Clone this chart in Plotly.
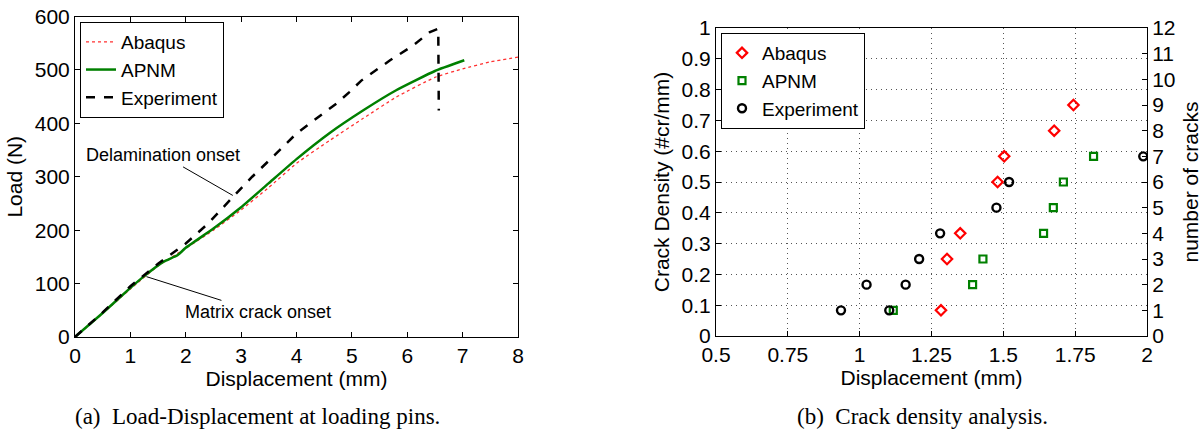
import plotly.graph_objects as go

# (a) load-displacement at loading pins
abaqus_disp = [0, 0.5, 1.0, 1.5, 2.0, 2.5, 3.0, 3.5, 4.0, 4.6, 5.2, 5.8, 6.5, 7.0, 7.5, 8.0]
abaqus_load = [0, 44, 90, 133, 166, 200, 238, 280, 325, 368, 409, 449, 486, 502, 515, 524]

apnm_disp = [0, 0.5, 1.0, 1.25, 1.6, 1.85, 2.0, 2.5, 3.0, 3.5, 4.0, 4.6, 5.2, 5.8, 6.5, 7.03]
apnm_load = [0, 45, 92, 114, 141, 153, 167, 203, 243, 288, 333, 382, 424, 462, 498, 518]

exp_disp = [0, 0.5, 1.0, 1.5, 2.0, 2.4, 2.85, 3.2, 3.6, 4.0, 4.5, 4.72, 4.96, 5.17, 5.69, 6.11, 6.41, 6.56, 6.57]
exp_load = [0, 46, 95, 137, 175, 212, 262, 300, 340, 381, 420, 437, 459, 480, 518, 546, 571, 577, 424]

# (b) crack density analysis
abaqus_cd_disp = [1.283, 1.304, 1.350, 1.480, 1.503, 1.677, 1.744]
abaqus_cracks = [1, 3, 4, 6, 7, 8, 9]
apnm_cd_disp = [1.117, 1.393, 1.429, 1.640, 1.674, 1.709, 1.814]
apnm_cracks = [1, 2, 3, 4, 5, 6, 7]
exp_cd_disp = [0.935, 1.024, 1.103, 1.160, 1.207, 1.280, 1.476, 1.520, 1.987]
exp_cracks = [1, 2, 1, 2, 3, 4, 5, 6, 7]

density_ticks = [0, 0.1, 0.2, 0.3, 0.4, 0.5, 0.6, 0.7, 0.8, 0.9, 1]
disp_ticks = [0.5, 0.75, 1, 1.25, 1.5, 1.75, 2]
disp_ticktext = ['0.5', '0.75', '1', '1.25', '1.5', '1.75', '2']
crack_ticks = list(range(0, 13))

W, H = 1202, 433
FONT = 'Liberation Sans, Arial, sans-serif'


def px(x):
    return x / W


def py(y):
    return 1 - y / H


fig = go.Figure()

# left panel
fig.add_trace(go.Scatter(x=abaqus_disp, y=abaqus_load, name='Abaqus', mode='lines',
                         line=dict(color='#ff3030', width=1.3, dash='dot',
                                   shape='spline', smoothing=0.5),
                         xaxis='x', yaxis='y', legend='legend'))
fig.add_trace(go.Scatter(x=apnm_disp, y=apnm_load, name='APNM', mode='lines',
                         line=dict(color='#008000', width=2.5, shape='spline', smoothing=0.4),
                         xaxis='x', yaxis='y', legend='legend'))
fig.add_trace(go.Scatter(x=exp_disp, y=exp_load, name='Experiment', mode='lines',
                         line=dict(color='black', width=2.5, dash='dash'),
                         xaxis='x', yaxis='y', legend='legend'))

# right panel: empty trace so the density axis gets drawn
fig.add_trace(go.Scatter(x=[], y=[], xaxis='x2', yaxis='y2', showlegend=False,
                         hoverinfo='skip'))
# points plotted as number of cracks
fig.add_trace(go.Scatter(x=abaqus_cd_disp, y=abaqus_cracks, name='Abaqus', mode='markers',
                         marker=dict(symbol='diamond-open', size=8, color='red',
                                     line=dict(width=2.2, color='red')),
                         xaxis='x2', yaxis='y3', legend='legend2'))
fig.add_trace(go.Scatter(x=apnm_cd_disp, y=apnm_cracks, name='APNM', mode='markers',
                         marker=dict(symbol='square-open', size=7, color='#008000',
                                     line=dict(width=2.2, color='#008000')),
                         xaxis='x2', yaxis='y3', legend='legend2'))
fig.add_trace(go.Scatter(x=exp_cd_disp, y=exp_cracks, name='Experiment', mode='markers',
                         marker=dict(symbol='circle-open', size=8, color='black',
                                     line=dict(width=2.4, color='black')),
                         xaxis='x2', yaxis='y3', legend='legend2'))

axis_common = dict(showline=True, linecolor='black', linewidth=1, ticks='inside',
                   ticklen=5, tickcolor='black', zeroline=False, automargin=False,
                   ticklabeloverflow='allow',
                   tickfont=dict(size=21, color='black'),
                   title_font=dict(size=21, color='black'))

grid = dict(showgrid=True, gridcolor='#555555', gridwidth=1, griddash='1px,4px')

fig.update_layout(
    width=W, height=H,
    margin=dict(l=0, r=0, t=0, b=0),
    paper_bgcolor='white', plot_bgcolor='white',
    font=dict(family=FONT, color='black'),
    xaxis=dict(domain=[px(75), px(518)], range=[0, 8], dtick=1, mirror='ticks',
               showgrid=False, title=dict(text='Displacement (mm)', standoff=0),
               anchor='y', **axis_common),
    yaxis=dict(domain=[py(337), py(16.5)], range=[0, 600], dtick=100, mirror='ticks',
               showgrid=False, title=dict(text='Load (N)', standoff=6),
               anchor='x', **axis_common),
    xaxis2=dict(domain=[px(716), px(1147)], range=[0.5, 2], tickvals=disp_ticks,
                ticktext=disp_ticktext, mirror=True,
                title=dict(text='Displacement (mm)', standoff=0),
                anchor='y2', **grid, **axis_common),
    yaxis2=dict(domain=[py(336), py(28)], range=[0, 1], tickvals=density_ticks,
                title=dict(text='Crack Density (#cr/mm)', standoff=6),
                anchor='x2', **grid, **axis_common),
    yaxis3=dict(range=[0, 12], tickvals=crack_ticks, overlaying='y2', side='right',
                anchor='x2', showgrid=False,
                title=dict(text='number of cracks', standoff=8), **axis_common),
    legend=dict(x=px(80), y=py(22), xanchor='left', yanchor='top',
                bgcolor='white', bordercolor='black', borderwidth=1,
                font=dict(size=19, color='black'), tracegroupgap=0,
                itemwidth=30),
    legend2=dict(x=px(721), y=py(33), xanchor='left', yanchor='top',
                 bgcolor='white', bordercolor='black', borderwidth=1,
                 font=dict(size=19, color='black'), tracegroupgap=0,
                 itemwidth=30),
    showlegend=True,
)

ann_font = dict(family=FONT, size=18, color='black')
fig.add_annotation(x=2.85, y=265, ax=1.59, ay=340, xref='x', yref='y', axref='x', ayref='y',
                   text='Delamination onset', showarrow=True, arrowhead=0, arrowwidth=1,
                   arrowcolor='black', font=ann_font)
fig.add_annotation(x=1.29, y=113, ax=3.30, ay=47, xref='x', yref='y', axref='x', ayref='y',
                   text='Matrix crack onset', showarrow=True, arrowhead=0, arrowwidth=1,
                   arrowcolor='black', font=ann_font)

cap_font = dict(family='Liberation Serif, Times New Roman, serif', size=23, color='black')
fig.add_annotation(x=px(73), y=py(416), xref='paper', yref='paper', xanchor='left',
                   yanchor='middle', showarrow=False,
                   text='(a)\u2002Load-Displacement at loading pins.', font=cap_font)
fig.add_annotation(x=px(795), y=py(416), xref='paper', yref='paper', xanchor='left',
                   yanchor='middle', showarrow=False,
                   text='(b)\u2002Crack density analysis.', font=cap_font)

# drop the default body margin so the figure fills the window exactly
fig.write_html("out.html", config={'displayModeBar': False},
               post_script="document.body.style.margin='0';")
